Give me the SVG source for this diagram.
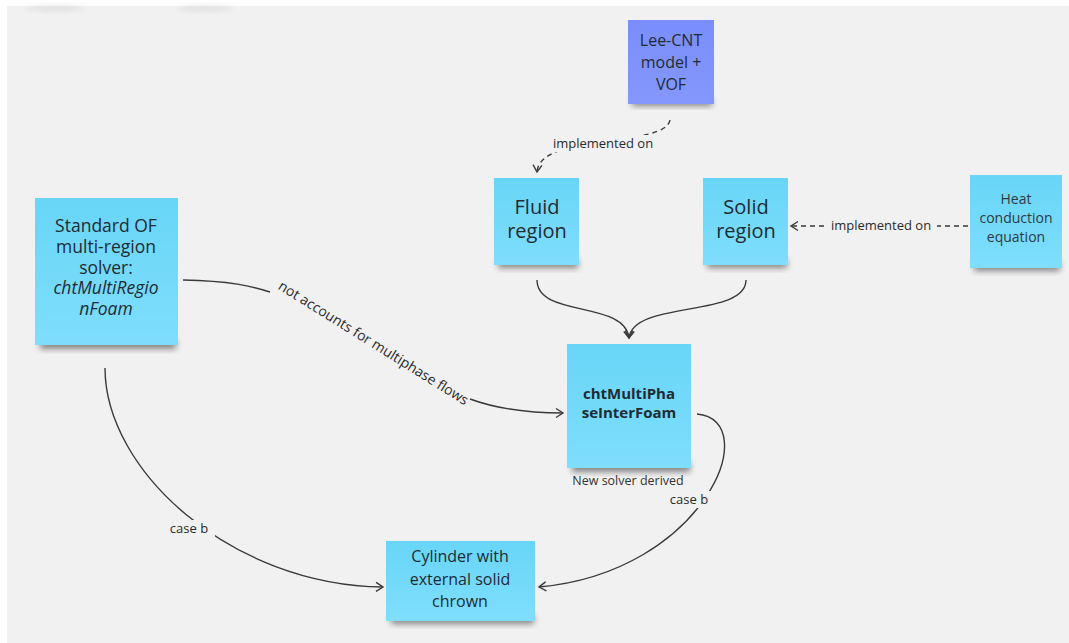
<svg xmlns="http://www.w3.org/2000/svg" width="1069" height="643" viewBox="0 0 1069 643">
<style>
.t{font-family:"Open Sans","Noto Sans",sans-serif;fill:#1f2b33;text-anchor:middle}
.lbl{font-family:"Open Sans","Noto Sans",sans-serif;fill:#2a2a2a;font-size:13px;text-anchor:middle}
.c{fill:none;stroke:#3a3a3a;stroke-width:1.4}
.d{stroke-dasharray:5 4}
.sh{fill:#000;opacity:0.45;filter:url(#blur)}
</style>
<defs>
<filter id="blur" x="-20%" y="-50%" width="140%" height="200%"><feGaussianBlur stdDeviation="3"/></filter>
<linearGradient id="blue" x1="0" y1="0" x2="0" y2="1"><stop offset="0" stop-color="#68d5f7"/><stop offset="1" stop-color="#7fdefc"/></linearGradient>
<linearGradient id="purple" x1="0" y1="0" x2="0" y2="1"><stop offset="0" stop-color="#7a8efb"/><stop offset="1" stop-color="#8497fc"/></linearGradient>
<marker id="ah" markerWidth="12" markerHeight="12" refX="9" refY="6" orient="auto" markerUnits="userSpaceOnUse"><path d="M2,1.5 L9,6 L2,10.5" fill="none" stroke="#3a3a3a" stroke-width="1.4"/></marker>
</defs>
<rect x="0" y="0" width="1069" height="643" fill="#ffffff"/>
<rect x="7" y="6" width="1062" height="637" fill="#f1f1f1"/>
<ellipse cx="55" cy="8" rx="30" ry="3" fill="#000" opacity="0.08" filter="url(#blur)"/>
<ellipse cx="205" cy="8" rx="28" ry="3" fill="#000" opacity="0.08" filter="url(#blur)"/>

<g id="connectors">
<path class="c d" d="M670,120 C665,148 540,132 537,172" marker-end="url(#ah)"/>
<rect x="547" y="135" width="114" height="17" fill="#f1f1f1"/>
<text class="lbl" x="603" y="148">implemented on</text>

<path class="c d" d="M968,226 L791,226" marker-end="url(#ah)"/>
<rect x="825" y="217" width="112" height="17" fill="#f1f1f1"/>
<text class="lbl" x="881" y="230">implemented on</text>

<path class="c" d="M537,280 C537,318 625,300 629,338" marker-end="url(#ah)"/>
<path class="c" d="M746,280 C746,318 633,300 629,338" marker-end="url(#ah)"/>

<path class="c" d="M183,280 C230,281 252,286 270,292"/>
<path class="c" d="M470,399 C500,410 530,413 563,413" marker-end="url(#ah)"/>
<text class="lbl" transform="translate(371,347) rotate(32)" style="font-size:14px">not accounts for multiphase flows</text>

<path class="c" d="M105,368 C105,470 230,585 383,587" marker-end="url(#ah)"/>
<rect x="163" y="520" width="52" height="17" fill="#f1f1f1"/>
<text class="lbl" x="189" y="533">case b</text>

<path class="c" d="M697,414 C765,420 705,572 539,587" marker-end="url(#ah)"/>
<rect x="664" y="491" width="50" height="17" fill="#f1f1f1"/>
<text class="lbl" x="689" y="504">case b</text>
</g>

<g id="lee-cnt">
<rect class="sh" x="632" y="98" width="80" height="8"/>
<rect x="628" y="20" width="86" height="84" fill="url(#purple)"/>
<text class="t" font-size="16" x="671" y="46">Lee-CNT</text>
<text class="t" font-size="16" x="671" y="68">model +</text>
<text class="t" font-size="16" x="671" y="90">VOF</text>
</g>

<g id="fluid-region">
<rect class="sh" x="498" y="259" width="80" height="9"/>
<rect x="494" y="178" width="85" height="87" fill="url(#blue)"/>
<text class="t" font-size="20" x="537" y="214">Fluid</text>
<text class="t" font-size="20" x="537" y="238">region</text>
</g>

<g id="solid-region">
<rect class="sh" x="707" y="259" width="80" height="9"/>
<rect x="703" y="178" width="85" height="87" fill="url(#blue)"/>
<text class="t" font-size="20" x="746" y="214">Solid</text>
<text class="t" font-size="20" x="746" y="238">region</text>
</g>

<g id="heat-conduction">
<rect class="sh" x="974" y="262" width="86" height="9"/>
<rect x="970" y="175" width="92" height="93" fill="url(#blue)"/>
<text class="t" font-size="14" x="1016" y="204" style="fill:#2b3a44">Heat</text>
<text class="t" font-size="14" x="1016" y="223" style="fill:#2b3a44">conduction</text>
<text class="t" font-size="14" x="1016" y="242" style="fill:#2b3a44">equation</text>
</g>

<g id="standard-of">
<rect class="sh" x="40" y="339" width="136" height="10"/>
<rect x="35" y="198" width="143" height="147" fill="url(#blue)"/>
<text class="t" font-size="17.5" x="106" y="232">Standard OF</text>
<text class="t" font-size="17.5" x="106" y="253">multi-region</text>
<text class="t" font-size="17.5" x="106" y="274">solver:</text>
<text class="t" font-size="17.5" x="106" y="294" font-style="italic">chtMultiRegio</text>
<text class="t" font-size="17.5" x="106" y="315" font-style="italic">nFoam</text>
</g>

<g id="cht-multiphase">
<rect class="sh" x="572" y="462" width="118" height="10"/>
<rect x="567" y="344" width="124" height="124" fill="url(#blue)"/>
<text class="t" font-size="15" font-weight="bold" x="629" y="399">chtMultiPha</text>
<text class="t" font-size="15" font-weight="bold" x="629" y="418">seInterFoam</text>
<text class="t" font-size="12.5" x="628" y="485" style="fill:#333">New solver derived</text>
</g>

<g id="cylinder">
<rect class="sh" x="391" y="615" width="143" height="9"/>
<rect x="386" y="541" width="149" height="80" fill="url(#blue)"/>
<text class="t" font-size="16" x="460" y="562">Cylinder with</text>
<text class="t" font-size="16" x="460" y="585">external solid</text>
<text class="t" font-size="16" x="460" y="607">chrown</text>
</g>
</svg>
